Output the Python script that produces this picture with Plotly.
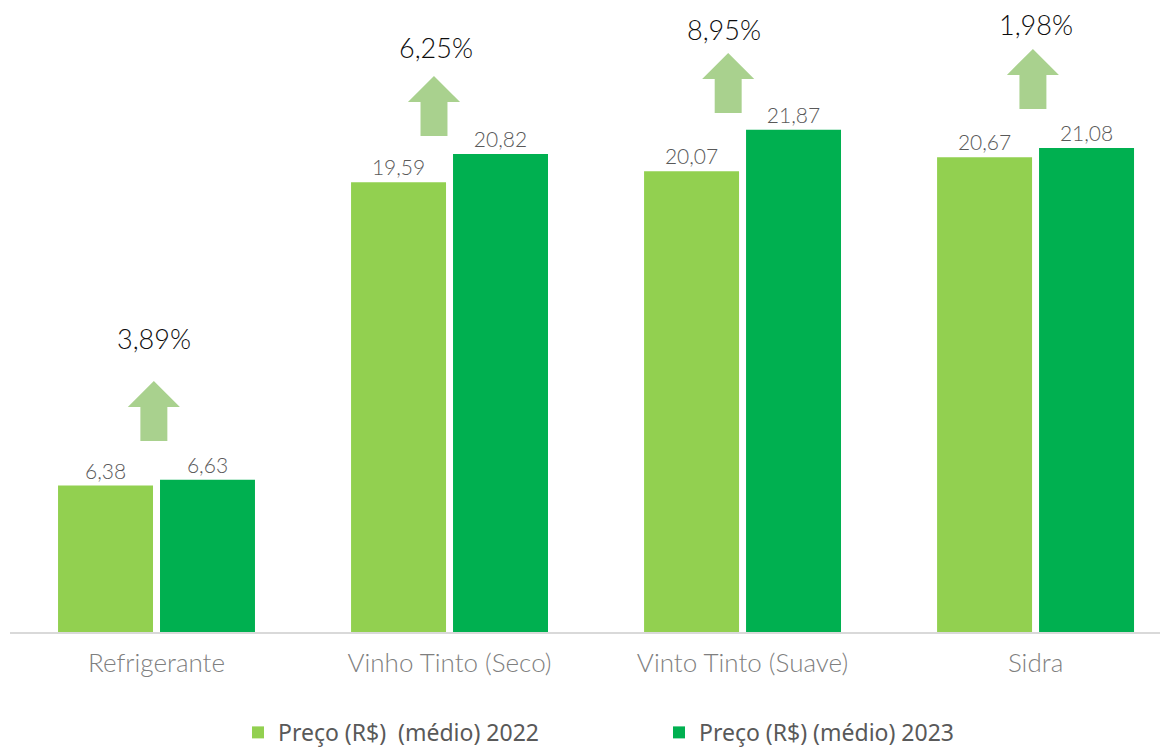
import plotly.graph_objects as go

# Data
categorias = ["Refrigerante", "Vinho Tinto (Seco)", "Vinto Tinto (Suave)", "Sidra"]
preco_2022 = [6.38, 19.59, 20.07, 20.67]
preco_2023 = [6.63, 20.82, 21.87, 21.08]
variacao = ["3,89%", "6,25%", "8,95%", "1,98%"]

# Placement of the arrows and percentage labels (data units)
seta_base = [8.32, 21.60, 22.60, 22.78]
seta_dx = [-0.009, -0.053, -0.049, -0.009]
texto_y = [12.80, 25.44, 26.22, 26.44]
texto_dx = [-0.007, -0.046, -0.063, 0.002]

VERDE_CLARO = "#92D050"
VERDE_ESCURO = "#00B050"
SETA = "#A9D18E"
FONTE = "Lato"

def fmt(v):
    return f"{v:.2f}".replace(".", ",")

x = list(range(len(categorias)))

fig = go.Figure()
fig.add_trace(go.Bar(
    x=x, y=preco_2022, name="Preço (R$)  (médio) 2022",
    marker=dict(color=VERDE_CLARO, line=dict(width=0)),
    text=[fmt(v) for v in preco_2022], textposition="outside",
    textfont=dict(size=21, color="#595959", family=FONTE, weight=300),
    cliponaxis=False,
))
fig.add_trace(go.Bar(
    x=x, y=preco_2023, name="Preço (R$) (médio) 2023",
    marker=dict(color=VERDE_ESCURO, line=dict(width=0)),
    text=[fmt(v) for v in preco_2023], textposition="outside",
    textfont=dict(size=21, color="#595959", family=FONTE, weight=300),
    cliponaxis=False,
))

# up arrows + percentage labels
h, hh, hw, sw = 2.61, 1.13, 0.0888, 0.046
for i in x:
    cx = i + seta_dx[i]
    b = seta_base[i]
    path = (f"M{cx-sw},{b} L{cx+sw},{b} L{cx+sw},{b+h-hh} L{cx+hw},{b+h-hh} "
            f"L{cx},{b+h} L{cx-hw},{b+h-hh} L{cx-sw},{b+h-hh} Z")
    fig.add_shape(type="path", path=path, xref="x", yref="y",
                  fillcolor=SETA, line=dict(width=0), layer="above")
    fig.add_annotation(x=i + texto_dx[i], y=texto_y[i], text=variacao[i],
                       showarrow=False, xref="x", yref="y",
                       font=dict(size=27, color="#0D0D0D", family=FONTE, weight=300))

# page body has an 8px margin, so the figure is 8px smaller and margins shifted
fig.update_layout(
    width=1160, height=741,
    margin=dict(l=2, r=0, t=4, b=117, autoexpand=False),
    plot_bgcolor="white", paper_bgcolor="white",
    barmode="group", bargap=0.304, bargroupgap=0.0686,
    showlegend=True,
    legend=dict(orientation="h", x=0.1969, xanchor="left", y=-0.162, yanchor="middle",
                font=dict(size=23, color="#595959", family="Noto Sans", weight=400),
                entrywidth=376, itemclick=False),
    xaxis=dict(range=[-0.5, 3.452], tickmode="array", tickvals=x, ticktext=categorias,
               showgrid=False, zeroline=False, showline=True, linecolor="#D9D9D9", linewidth=2,
               ticks="", ticklabelstandoff=7,
               tickfont=dict(size=26, color="#7F7F7F", family=FONTE, weight=300)),
    yaxis=dict(range=[0, 27], visible=False, showgrid=False, zeroline=False),
)

fig.write_html("out.html")
